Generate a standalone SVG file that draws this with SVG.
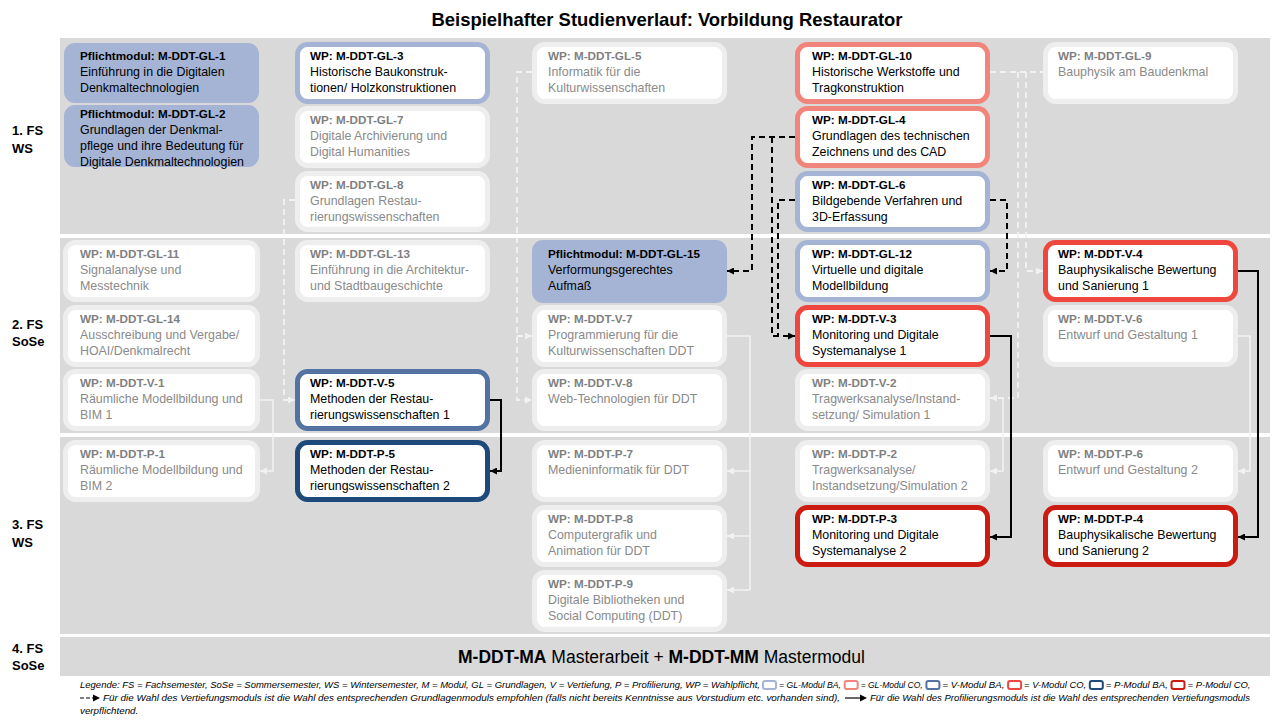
<svg xmlns="http://www.w3.org/2000/svg" width="1280" height="720" viewBox="0 0 1280 720">
<defs>
<style>
.band{fill:#d9d9d9}
.fill{fill:#a5b4d5}
.glba{fill:#fff;stroke:#a5b4d5;stroke-width:5}
.glco{fill:#fff;stroke:#f1857c;stroke-width:5}
.vba{fill:#fff;stroke:#5373a3;stroke-width:5}
.vco{fill:#fff;stroke:#ef473d;stroke-width:5}
.pba{fill:#fff;stroke:#1d4a7a;stroke-width:5}
.pco{fill:#fff;stroke:#cc1b10;stroke-width:5}
.faint{fill:#fff;stroke:#eeeeee;stroke-width:5}
text{font-family:"Liberation Sans",Arial,sans-serif}
.t{font-size:12.4px;fill:#000}
.b{font-weight:bold;font-size:11.7px}
.g{fill:#8a8a8a}
.gb{fill:#7f7f7f}
.lab{font-weight:bold;font-size:13px;fill:#000}
.dk{fill:none;stroke:#000;stroke-width:2;stroke-dasharray:6 4}
.ks{fill:none;stroke:#000;stroke-width:2}
.ld{fill:none;stroke:#f2f2f2;stroke-width:1.8;stroke-dasharray:6 4}
.ls{fill:none;stroke:#f2f2f2;stroke-width:1.6}
.leg{font-size:9.8px;font-style:italic;fill:#000}
.lb{stroke-width:2;fill:#fff}
</style>
<marker id="ak" viewBox="0 0 10 10" refX="10" refY="5" markerWidth="8" markerHeight="7" markerUnits="userSpaceOnUse" orient="auto"><path d="M0,0 L10,5 L0,10 z" fill="#000"/></marker>
<marker id="al" viewBox="0 0 10 10" refX="10" refY="5" markerWidth="8" markerHeight="7" markerUnits="userSpaceOnUse" orient="auto"><path d="M0,0 L10,5 L0,10 z" fill="#f2f2f2"/></marker>
</defs>
<rect width="1280" height="720" fill="#fff"/>
<text x="667" y="26" text-anchor="middle" font-weight="bold" font-size="18.5" textLength="471" lengthAdjust="spacingAndGlyphs">Beispielhafter Studienverlauf: Vorbildung Restaurator</text>

<g id="bands">
<rect class="band" x="60" y="38" width="1210" height="196"/>
<rect class="band" x="60" y="238" width="1210" height="195"/>
<rect class="band" x="60" y="437" width="1210" height="197"/>
<rect class="band" x="60" y="637" width="1210" height="39"/>
</g>

<g id="semester-labels">
<text class="lab" x="12" y="135">1. FS</text><text class="lab" x="12" y="153">WS</text>
<text class="lab" x="12" y="329">2. FS</text><text class="lab" x="12" y="346">SoSe</text>
<text class="lab" x="12" y="529">3. FS</text><text class="lab" x="12" y="547">WS</text>
<text class="lab" x="12" y="653">4. FS</text><text class="lab" x="12" y="670">SoSe</text>
</g>

<g id="connectors">
<path class="dk" d="M795,137 H752 V271 H727" marker-end="url(#ak)"/>
<path class="dk" d="M772,137 V336 H795" marker-end="url(#ak)"/>
<path class="dk" d="M795,200 H778 V336"/>
<path class="dk" d="M990,200 H1007 V271 H990" marker-end="url(#ak)"/>
<path class="ld" d="M295,200 H284 V400 H295" marker-end="url(#al)"/>
<path class="ld" d="M532,72 H517 V400 H532" marker-end="url(#al)"/>
<path class="ld" d="M517,336 H532" marker-end="url(#al)"/>
<path class="ld" d="M990,72 H1043"/>
<path class="ld" d="M1018,72 V398 H990" marker-end="url(#al)"/>
<path class="ld" d="M1026,72 V271 H1043" marker-end="url(#al)"/>
<path class="ls" d="M260,400 H273 V471 H260" marker-end="url(#al)"/>
<path class="ls" d="M727,336 H750 V590"/>
<path class="ls" d="M750,471 H727" marker-end="url(#al)"/>
<path class="ls" d="M750,536 H727" marker-end="url(#al)"/>
<path class="ls" d="M750,590 H727" marker-end="url(#al)"/>
<path class="ls" d="M1003,398 V471 H990" marker-end="url(#al)"/>
<path class="ls" d="M1238,336 H1250 V471 H1238" marker-end="url(#al)"/>
<path class="ks" d="M490,400 H501 V471 H490" marker-end="url(#ak)"/>
<path class="ks" d="M990,336 H1011 V537 H990" marker-end="url(#ak)"/>
<path class="ks" d="M1238,271 H1258 V537 H1238" marker-end="url(#ak)"/>
</g>

<g id="GL-1"><rect class="fill" x="64" y="43" width="195" height="60" rx="11"/>
<text class="t b" x="80" y="60">Pflichtmodul: M-DDT-GL-1</text><text class="t" x="80" y="76">Einführung in die Digitalen</text><text class="t" x="80" y="92">Denkmaltechnologien</text></g>
<g id="GL-2"><rect class="fill" x="64" y="105" width="195" height="62" rx="11"/>
<text class="t b" x="80" y="118">Pflichtmodul: M-DDT-GL-2</text><text class="t" x="80" y="134">Grundlagen der Denkmal-</text><text class="t" x="80" y="150">pflege und ihre Bedeutung für</text><text class="t" x="80" y="166">Digitale Denkmaltechnologien</text></g>
<g id="GL-3"><rect class="glba" x="297.5" y="44.5" width="190" height="57" rx="10"/>
<text class="t b" x="310" y="60">WP: M-DDT-GL-3</text><text class="t" x="310" y="76">Historische Baukonstruk-</text><text class="t" x="310" y="92">tionen/ Holzkonstruktionen</text></g>
<g id="GL-7"><rect class="faint" x="297.5" y="108.5" width="190" height="57" rx="10"/>
<text class="t b gb" x="310" y="124">WP: M-DDT-GL-7</text><text class="t g" x="310" y="140">Digitale Archivierung und</text><text class="t g" x="310" y="156">Digital Humanities</text></g>
<g id="GL-8"><rect class="faint" x="297.5" y="173.5" width="190" height="56" rx="10"/>
<text class="t b gb" x="310" y="189">WP: M-DDT-GL-8</text><text class="t g" x="310" y="205">Grundlagen Restau-</text><text class="t g" x="310" y="221">rierungswissenschaften</text></g>
<g id="GL-5"><rect class="faint" x="534.5" y="44.5" width="190" height="57" rx="10"/>
<text class="t b gb" x="548" y="60">WP: M-DDT-GL-5</text><text class="t g" x="548" y="76">Informatik für die</text><text class="t g" x="548" y="92">Kulturwissenschaften</text></g>
<g id="GL-10"><rect class="glco" x="797.5" y="44.5" width="190" height="57" rx="10"/>
<text class="t b" x="812" y="60">WP: M-DDT-GL-10</text><text class="t" x="812" y="76">Historische Werkstoffe und</text><text class="t" x="812" y="92">Tragkonstruktion</text></g>
<g id="GL-4"><rect class="glco" x="797.5" y="108.5" width="190" height="57" rx="10"/>
<text class="t b" x="812" y="124">WP: M-DDT-GL-4</text><text class="t" x="812" y="140">Grundlagen des technischen</text><text class="t" x="812" y="156">Zeichnens und des CAD</text></g>
<g id="GL-6"><rect class="glba" x="797.5" y="173.5" width="190" height="56" rx="10"/>
<text class="t b" x="812" y="189">WP: M-DDT-GL-6</text><text class="t" x="812" y="205">Bildgebende Verfahren und</text><text class="t" x="812" y="221">3D-Erfassung</text></g>
<g id="GL-9"><rect class="faint" x="1045.5" y="44.5" width="190" height="57" rx="10"/>
<text class="t b gb" x="1058" y="60">WP: M-DDT-GL-9</text><text class="t g" x="1058" y="76">Bauphysik am Baudenkmal</text></g>

<g id="GL-11"><rect class="faint" x="65.5" y="242.5" width="192" height="57" rx="10"/>
<text class="t b gb" x="80" y="258">WP: M-DDT-GL-11</text><text class="t g" x="80" y="274">Signalanalyse und</text><text class="t g" x="80" y="290">Messtechnik</text></g>
<g id="GL-14"><rect class="faint" x="65.5" y="307.5" width="192" height="57" rx="10"/>
<text class="t b gb" x="80" y="323">WP: M-DDT-GL-14</text><text class="t g" x="80" y="339">Ausschreibung und Vergabe/</text><text class="t g" x="80" y="355">HOAI/Denkmalrecht</text></g>
<g id="V-1"><rect class="faint" x="65.5" y="371.5" width="192" height="57" rx="10"/>
<text class="t b gb" x="80" y="387">WP: M-DDT-V-1</text><text class="t g" x="80" y="403">Räumliche Modellbildung und</text><text class="t g" x="80" y="419">BIM 1</text></g>
<g id="GL-13"><rect class="faint" x="297.5" y="242.5" width="190" height="57" rx="10"/>
<text class="t b gb" x="310" y="258">WP: M-DDT-GL-13</text><text class="t g" x="310" y="274">Einführung in die Architektur-</text><text class="t g" x="310" y="290">und Stadtbaugeschichte</text></g>
<g id="V-5"><rect class="vba" x="297.5" y="371.5" width="190" height="57" rx="10"/>
<text class="t b" x="310" y="387">WP: M-DDT-V-5</text><text class="t" x="310" y="403">Methoden der Restau-</text><text class="t" x="310" y="419">rierungswissenschaften 1</text></g>
<g id="GL-15"><rect class="fill" x="532" y="240" width="195" height="63" rx="11"/>
<text class="t b" x="548" y="258">Pflichtmodul: M-DDT-GL-15</text><text class="t" x="548" y="274">Verformungsgerechtes</text><text class="t" x="548" y="290">Aufmaß</text></g>
<g id="V-7"><rect class="faint" x="534.5" y="307.5" width="190" height="57" rx="10"/>
<text class="t b gb" x="548" y="323">WP: M-DDT-V-7</text><text class="t g" x="548" y="339">Programmierung für die</text><text class="t g" x="548" y="355">Kulturwissenschaften DDT</text></g>
<g id="V-8"><rect class="faint" x="534.5" y="371.5" width="190" height="57" rx="10"/>
<text class="t b gb" x="548" y="387">WP: M-DDT-V-8</text><text class="t g" x="548" y="403">Web-Technologien für DDT</text></g>
<g id="GL-12"><rect class="glba" x="797.5" y="242.5" width="190" height="57" rx="10"/>
<text class="t b" x="812" y="258">WP: M-DDT-GL-12</text><text class="t" x="812" y="274">Virtuelle und digitale</text><text class="t" x="812" y="290">Modellbildung</text></g>
<g id="V-3"><rect class="vco" x="797.5" y="307.5" width="190" height="57" rx="10"/>
<text class="t b" x="812" y="323">WP: M-DDT-V-3</text><text class="t" x="812" y="339">Monitoring und Digitale</text><text class="t" x="812" y="355">Systemanalyse 1</text></g>
<g id="V-2"><rect class="faint" x="797.5" y="371.5" width="190" height="57" rx="10"/>
<text class="t b gb" x="812" y="387">WP: M-DDT-V-2</text><text class="t g" x="812" y="403">Tragwerksanalyse/Instand-</text><text class="t g" x="812" y="419">setzung/ Simulation 1</text></g>
<g id="V-4"><rect class="vco" x="1045.5" y="242.5" width="190" height="57" rx="10"/>
<text class="t b" x="1058" y="258">WP: M-DDT-V-4</text><text class="t" x="1058" y="274">Bauphysikalische Bewertung</text><text class="t" x="1058" y="290">und Sanierung 1</text></g>
<g id="V-6"><rect class="faint" x="1045.5" y="307.5" width="190" height="57" rx="10"/>
<text class="t b gb" x="1058" y="323">WP: M-DDT-V-6</text><text class="t g" x="1058" y="339">Entwurf und Gestaltung 1</text></g>

<g id="P-1"><rect class="faint" x="65.5" y="442.5" width="192" height="57" rx="10"/>
<text class="t b gb" x="80" y="458">WP: M-DDT-P-1</text><text class="t g" x="80" y="474">Räumliche Modellbildung und</text><text class="t g" x="80" y="490">BIM 2</text></g>
<g id="P-5"><rect class="pba" x="297.5" y="442.5" width="190" height="57" rx="10"/>
<text class="t b" x="310" y="458">WP: M-DDT-P-5</text><text class="t" x="310" y="474">Methoden der Restau-</text><text class="t" x="310" y="490">rierungswissenschaften 2</text></g>
<g id="P-7"><rect class="faint" x="534.5" y="442.5" width="190" height="57" rx="10"/>
<text class="t b gb" x="548" y="458">WP: M-DDT-P-7</text><text class="t g" x="548" y="474">Medieninformatik für DDT</text></g>
<g id="P-8"><rect class="faint" x="534.5" y="507.5" width="190" height="57" rx="10"/>
<text class="t b gb" x="548" y="523">WP: M-DDT-P-8</text><text class="t g" x="548" y="539">Computergrafik und</text><text class="t g" x="548" y="555">Animation für DDT</text></g>
<g id="P-9"><rect class="faint" x="534.5" y="572.5" width="190" height="57" rx="10"/>
<text class="t b gb" x="548" y="588">WP: M-DDT-P-9</text><text class="t g" x="548" y="604">Digitale Bibliotheken und</text><text class="t g" x="548" y="620">Social Computing (DDT)</text></g>
<g id="P-2"><rect class="faint" x="797.5" y="442.5" width="190" height="57" rx="10"/>
<text class="t b gb" x="812" y="458">WP: M-DDT-P-2</text><text class="t g" x="812" y="474">Tragwerksanalyse/</text><text class="t g" x="812" y="490">Instandsetzung/Simulation 2</text></g>
<g id="P-3"><rect class="pco" x="797.5" y="507.5" width="190" height="57" rx="10"/>
<text class="t b" x="812" y="523">WP: M-DDT-P-3</text><text class="t" x="812" y="539">Monitoring und Digitale</text><text class="t" x="812" y="555">Systemanalyse 2</text></g>
<g id="P-6"><rect class="faint" x="1045.5" y="442.5" width="190" height="57" rx="10"/>
<text class="t b gb" x="1058" y="458">WP: M-DDT-P-6</text><text class="t g" x="1058" y="474">Entwurf und Gestaltung 2</text></g>
<g id="P-4"><rect class="pco" x="1045.5" y="507.5" width="190" height="57" rx="10"/>
<text class="t b" x="1058" y="523">WP: M-DDT-P-4</text><text class="t" x="1058" y="539">Bauphysikalische Bewertung</text><text class="t" x="1058" y="555">und Sanierung 2</text></g>

<g id="MA"><text x="458" y="663" font-size="17.5"><tspan font-weight="bold">M-DDT-MA</tspan> Masterarbeit + <tspan font-weight="bold">M-DDT-MM</tspan> Mastermodul</text></g>

<g id="legend">
<text class="leg" x="80" y="688" textLength="680" lengthAdjust="spacingAndGlyphs">Legende: FS = Fachsemester, SoSe = Sommersemester, WS = Wintersemester, M = Modul, GL = Grundlagen, V = Vertiefung, P = Profilierung, WP = Wahlpflicht,</text>
<rect class="lb" x="763" y="681" width="13" height="8" rx="2" stroke="#a5b4d5"/>
<text class="leg" x="779" y="688" textLength="62" lengthAdjust="spacingAndGlyphs">= GL-Modul BA,</text>
<rect class="lb" x="844.7" y="681" width="13" height="8" rx="2" stroke="#f1857c"/>
<text class="leg" x="860.7" y="688" textLength="62" lengthAdjust="spacingAndGlyphs">= GL-Modul CO,</text>
<rect class="lb" x="926.4" y="681" width="13" height="8" rx="2" stroke="#5373a3"/>
<text class="leg" x="942.4" y="688" textLength="62" lengthAdjust="spacingAndGlyphs">= V-Modul BA,</text>
<rect class="lb" x="1008.1" y="681" width="13" height="8" rx="2" stroke="#ef473d"/>
<text class="leg" x="1024.1" y="688" textLength="62" lengthAdjust="spacingAndGlyphs">= V-Modul CO,</text>
<rect class="lb" x="1089.8" y="681" width="13" height="8" rx="2" stroke="#1d4a7a"/>
<text class="leg" x="1105.8" y="688" textLength="62" lengthAdjust="spacingAndGlyphs">= P-Modul BA,</text>
<rect class="lb" x="1171.5" y="681" width="13" height="8" rx="2" stroke="#cc1b10"/>
<text class="leg" x="1187.5" y="688" textLength="63" lengthAdjust="spacingAndGlyphs">= P-Modul CO,</text>
<path d="M80,698 H93" stroke="#000" stroke-width="1.2" stroke-dasharray="4 2" fill="none"/>
<path d="M93,694.5 L100,698 L93,701.5 z" fill="#000"/>
<text class="leg" x="103" y="701" textLength="737" lengthAdjust="spacingAndGlyphs">Für die Wahl des Vertiefungsmoduls ist die Wahl des entsprechenden Grundlagenmoduls empfohlen (falls nicht bereits Kenntnisse aus Vorstudium etc. vorhanden sind),</text>
<path d="M845,698 H860" stroke="#000" stroke-width="1.2" fill="none"/>
<path d="M860,694.5 L867,698 L860,701.5 z" fill="#000"/>
<text class="leg" x="870" y="701" textLength="380" lengthAdjust="spacingAndGlyphs">Für die Wahl des Profilierungsmoduls ist die Wahl des entsprechenden Vertiefungsmoduls</text>
<text class="leg" x="80" y="714">verpflichtend.</text>
</g>
</svg>
